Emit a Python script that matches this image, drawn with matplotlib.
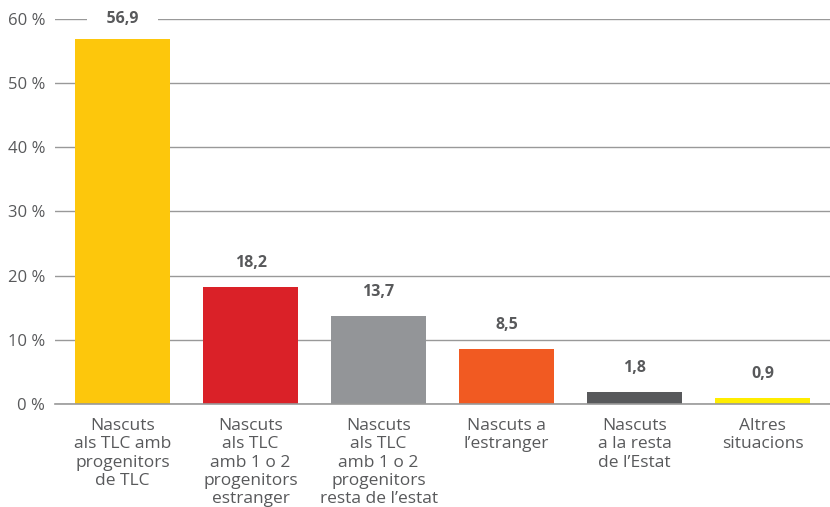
import matplotlib.pyplot as plt
import numpy as np

categories = [
    "Nascuts\nals TLC amb\nprogenitors\nde TLC",
    "Nascuts\nals TLC\namb 1 o 2\nprogenitors\nestranger",
    "Nascuts\nals TLC\namb 1 o 2\nprogenitors\nresta de l\u2019estat",
    "Nascuts a\nl\u2019estranger",
    "Nascuts\na la resta\nde l\u2019Estat",
    "Altres\nsituacions",
]
values = [56.9, 18.2, 13.7, 8.5, 1.8, 0.9]
colors = ["#FDC70C", "#DA2128", "#939598", "#F15A22", "#58595B", "#FFED00"]
yticks = [0, 10, 20, 30, 40, 50, 60]

plt.rcParams['font.family'] = ['Open Sans', 'DejaVu Sans']

fig = plt.figure(figsize=(8.3, 5.07), dpi=100)
ax = fig.add_axes([0.0663, 0.2032, 0.9337, 0.7593])

x = np.arange(len(values))
ax.bar(x, values, width=0.74, color=colors, zorder=3)

ax.set_xlim(-0.527, 5.526)
ax.set_ylim(0, 60)
ax.set_yticks(yticks)
ax.set_yticklabels([f"{t} %" for t in yticks], color="#58595B", fontsize=12)
ax.set_xticks(x)
ax.set_xticklabels(categories, color="#58595B", fontsize=12.5, linespacing=1.2, va="top")
ax.tick_params(axis="both", length=0)
ax.tick_params(axis="y", pad=7)
ax.tick_params(axis="x", pad=10)

for s in ["top", "right", "left"]:
    ax.spines[s].set_visible(False)
ax.spines["bottom"].set_color("#999999")
ax.spines["bottom"].set_linewidth(1.2)
ax.spines["bottom"].set_zorder(4)

ax.yaxis.grid(True, color="#999999", linewidth=1.0, zorder=0)
ax.set_axisbelow(True)

# label sits ~24 px above the bar, but never above the top gridline
px = 60 / (0.7593 * 507)
for xi, v in zip(x, values):
    ty = min(v + 24 * px, 60)
    txt = f"{v:.1f}".replace(".", ",")
    if ty >= 60:
        txt = "    " + txt + "    "
    ax.text(xi, ty, txt, ha="center", va="center",
            fontsize=11.5, fontweight="bold", color="#58595B", zorder=5,
            bbox=dict(facecolor="white", edgecolor="none", pad=2) if ty >= 60 else None)

fig.savefig("out.png", dpi=100)
